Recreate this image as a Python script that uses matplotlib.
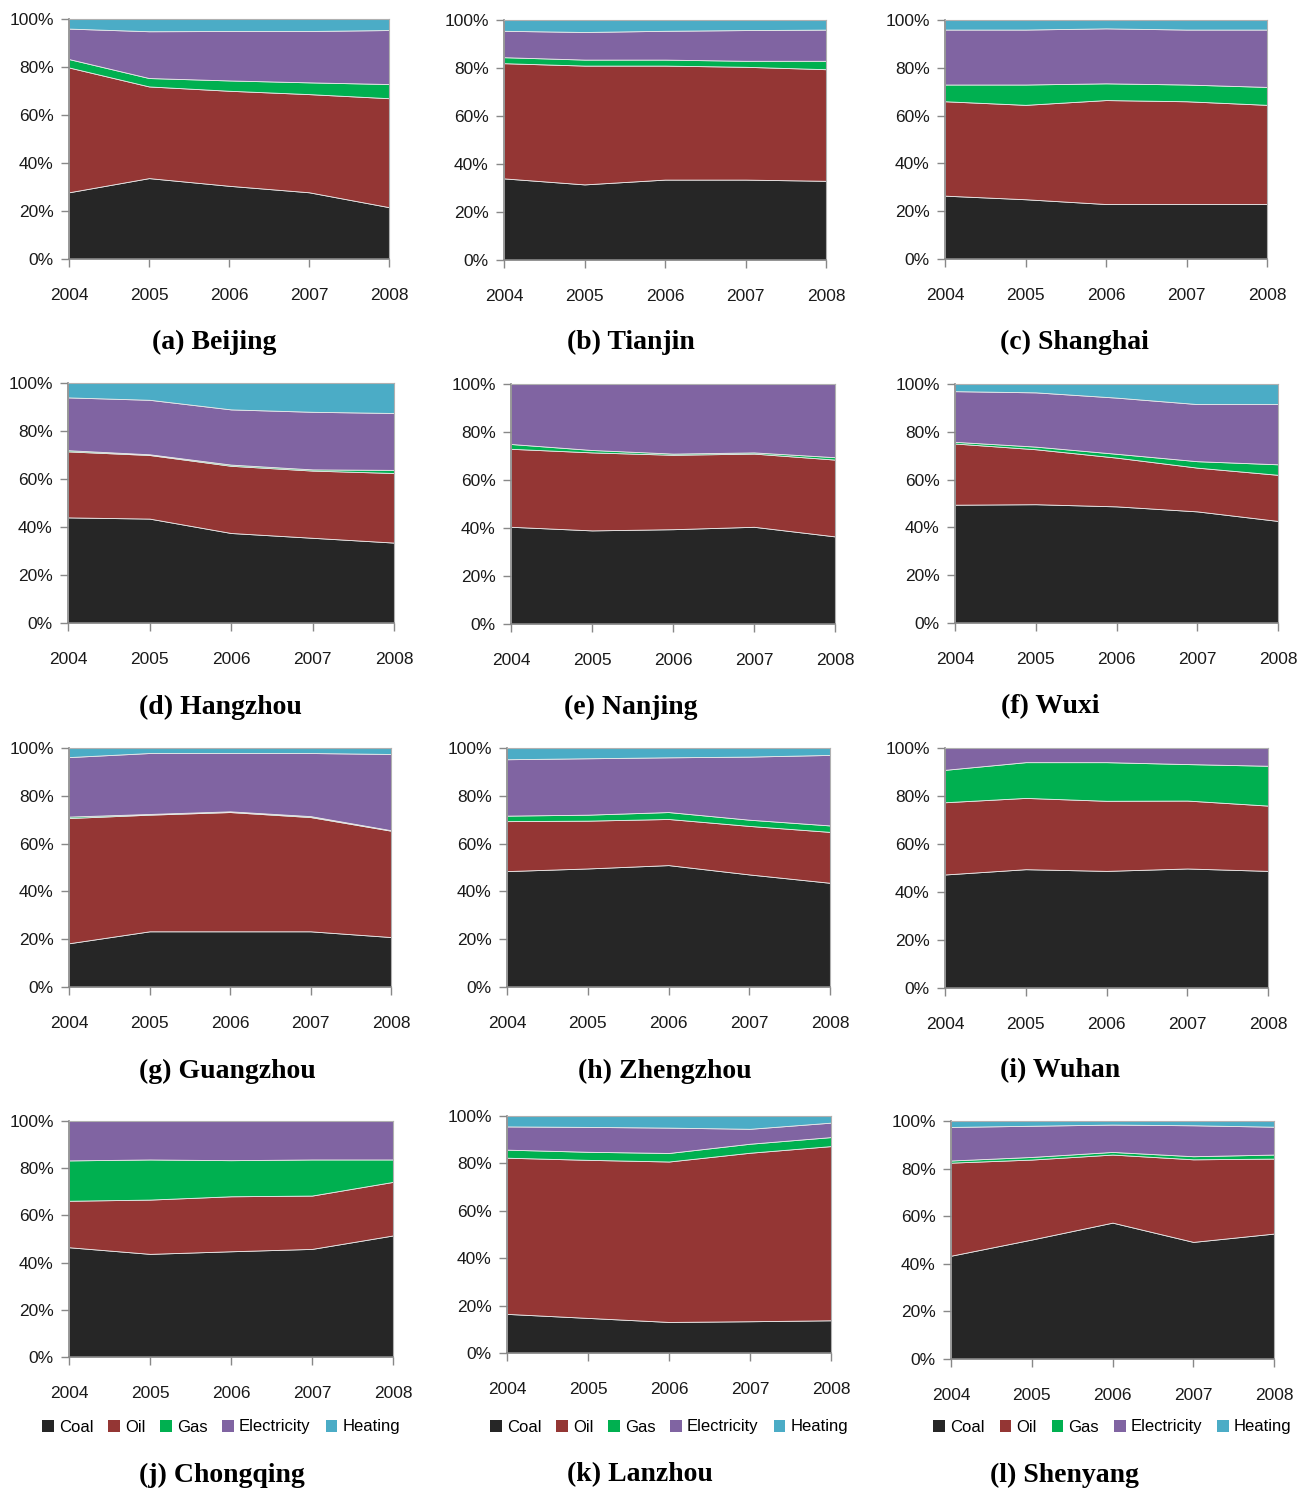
import numpy as np
import matplotlib.pyplot as plt
from matplotlib.patches import Patch

plt.rcParams['font.family'] = ['Liberation Sans', 'DejaVu Sans']

# years on the x axis
years = [2004, 2005, 2006, 2007, 2008]

cities = ['(a) Beijing', '(b) Tianjin', '(c) Shanghai',
          '(d) Hangzhou', '(e) Nanjing', '(f) Wuxi',
          '(g) Guangzhou', '(h) Zhengzhou', '(i) Wuhan',
          '(j) Chongqing', '(k) Lanzhou', '(l) Shenyang']

fuels = ['Coal', 'Oil', 'Gas', 'Electricity', 'Heating']
colors = ['#262626', '#943634', '#00B050', '#8064A2', '#4BACC6']

# shares in percent, one row per city (same order as cities)
coal = [[27.8, 33.7, 30.5, 27.8, 21.6],
        [34.0, 31.5, 33.5, 33.5, 33.0],
        [26.5, 25.0, 23.0, 23.0, 23.0],
        [44.0, 43.5, 37.5, 35.5, 33.5],
        [40.5, 39.0, 39.5, 40.5, 36.5],
        [49.5, 49.7, 48.8, 46.7, 42.7],
        [18.3, 23.3, 23.3, 23.3, 20.9],
        [48.5, 49.6, 51.0, 47.1, 43.6],
        [47.3, 49.5, 48.8, 49.8, 48.8],
        [46.5, 43.7, 44.8, 45.8, 51.5],
        [16.5, 14.8, 13.1, 13.4, 13.8],
        [43.4, 50.2, 57.3, 49.2, 52.7]]

oil = [[52.0, 38.2, 39.6, 40.9, 45.4],
       [48.0, 49.5, 47.5, 47.0, 46.5],
       [39.5, 39.5, 43.5, 43.0, 41.5],
       [27.5, 26.5, 28.0, 28.0, 29.0],
       [32.5, 32.5, 31.0, 30.5, 32.0],
       [25.6, 23.0, 20.4, 18.3, 19.3],
       [52.4, 48.8, 49.9, 47.8, 44.5],
       [20.9, 20.0, 19.3, 20.3, 21.3],
       [30.1, 29.7, 29.2, 28.3, 27.2],
       [19.7, 23.0, 23.3, 22.6, 22.7],
       [65.9, 66.7, 67.7, 71.1, 73.5],
       [39.1, 33.6, 28.6, 34.7, 31.5]]

gas = [[3.5, 3.5, 4.3, 4.9, 5.9],
       [2.5, 2.5, 2.5, 2.5, 3.5],
       [7.0, 8.5, 7.0, 7.0, 7.5],
       [0.5, 0.3, 0.5, 0.5, 1.3],
       [2.0, 1.0, 0.5, 0.5, 1.0],
       [0.7, 1.1, 1.6, 2.7, 4.4],
       [0.6, 0.3, 0.3, 0.4, 0.2],
       [2.3, 2.5, 2.9, 2.6, 2.7],
       [13.5, 14.9, 16.1, 15.2, 16.6],
       [17.1, 17.0, 15.3, 15.3, 9.5],
       [3.4, 3.4, 3.6, 3.8, 3.8],
       [0.9, 1.1, 1.1, 1.3, 1.7]]

electricity = [[12.7, 19.5, 20.6, 21.4, 22.5],
               [11.0, 11.5, 12.0, 12.8, 13.0],
               [23.0, 23.0, 23.0, 23.0, 24.0],
               [22.0, 22.7, 23.0, 24.0, 23.7],
               [25.0, 27.5, 29.0, 28.5, 30.5],
               [21.2, 22.7, 23.5, 23.9, 25.2],
               [24.9, 25.5, 24.4, 26.4, 31.9],
               [23.6, 23.6, 22.9, 26.4, 29.5],
               [9.1, 5.9, 5.9, 6.7, 7.4],
               [16.7, 16.3, 16.6, 16.3, 16.3],
               [9.8, 10.5, 10.7, 6.3, 6.1],
               [14.1, 13.1, 11.5, 13.0, 11.7]]

heating = [[4.0, 5.1, 5.0, 5.0, 4.6],
           [4.5, 5.0, 4.5, 4.2, 4.0],
           [4.0, 4.0, 3.5, 4.0, 4.0],
           [6.0, 7.0, 11.0, 12.0, 12.5],
           [0.0, 0.0, 0.0, 0.0, 0.0],
           [3.0, 3.5, 5.7, 8.4, 8.4],
           [3.8, 2.1, 2.1, 2.1, 2.5],
           [4.7, 4.3, 3.9, 3.6, 2.9],
           [0.0, 0.0, 0.0, 0.0, 0.0],
           [0.0, 0.0, 0.0, 0.0, 0.0],
           [4.4, 4.6, 4.9, 5.4, 2.8],
           [2.5, 2.0, 1.5, 1.8, 2.4]]

W, H = 1298, 1493
fig = plt.figure(figsize=(W / 100, H / 100), dpi=100)

# plot areas in pixels: left, top, right, bottom
boxes = [(69, 19, 389, 259), (504, 20, 826, 260), (945, 20, 1267, 259),
         (68, 383, 394, 623), (511, 384, 835, 624), (955, 384, 1278, 623),
         (69, 748, 391, 987), (507, 748, 830, 987), (945, 748, 1268, 988),
         (69, 1121, 393, 1357), (507, 1116, 831, 1353), (951, 1121, 1274, 1359)]
cap_x = [214, 631, 1074, 220, 631, 1050, 227, 665, 1060, 222, 640, 1064]
cap_y = [342, 342, 342, 707, 707, 707, 1071, 1071, 1071, 1475, 1475, 1475]

for i, name in enumerate(cities):
    l, t, r, b = boxes[i]
    ax = fig.add_axes([l / W, 1 - b / H, (r - l) / W, (b - t) / H])
    shares = np.array([coal[i], oil[i], gas[i], electricity[i], heating[i]])
    shares = shares / shares.sum(axis=0)
    ax.stackplot(years, shares, colors=colors, edgecolor='#e8e8e8', linewidth=0.6)
    ax.set_xlim(2004, 2008)
    ax.set_ylim(0, 1)
    ax.set_xticks(years)
    ax.set_xticklabels([str(y) for y in years])
    ax.set_yticks(np.arange(0, 1.01, 0.2))
    ax.set_yticklabels(['%d%%' % v for v in range(0, 101, 20)])
    ax.tick_params(axis='x', length=6, width=1, color='#888888', pad=15,
                   labelsize=12.5, labelcolor='#1a1a1a')
    ax.tick_params(axis='y', length=6, width=1, color='#888888', pad=5,
                   labelsize=12.5, labelcolor='#1a1a1a')
    for s in ['top', 'right']:
        ax.spines[s].set_color('#b0b0b0')
        ax.spines[s].set_linewidth(0.8)
    for s in ['left', 'bottom']:
        ax.spines[s].set_color('#888888')
        ax.spines[s].set_linewidth(1.2)
    fig.text(cap_x[i] / W, 1 - cap_y[i] / H, name, ha='center', va='center',
             fontsize=20, fontweight='bold', family='Liberation Serif')

    if i >= 9:
        handles = [Patch(facecolor=c, edgecolor='none') for c in colors]
        cx = (l + r) / 2 - (10 if i == 9 else 0)
        ax.legend(handles, fuels, loc='center', ncol=5, frameon=False,
                  bbox_to_anchor=(cx / W, 1 - 1427 / H),
                  bbox_transform=fig.transFigure, fontsize=12,
                  handlelength=0.7, handleheight=0.7, handletextpad=0.3,
                  columnspacing=0.9, borderaxespad=0)

fig.savefig('out.png', dpi=100)
